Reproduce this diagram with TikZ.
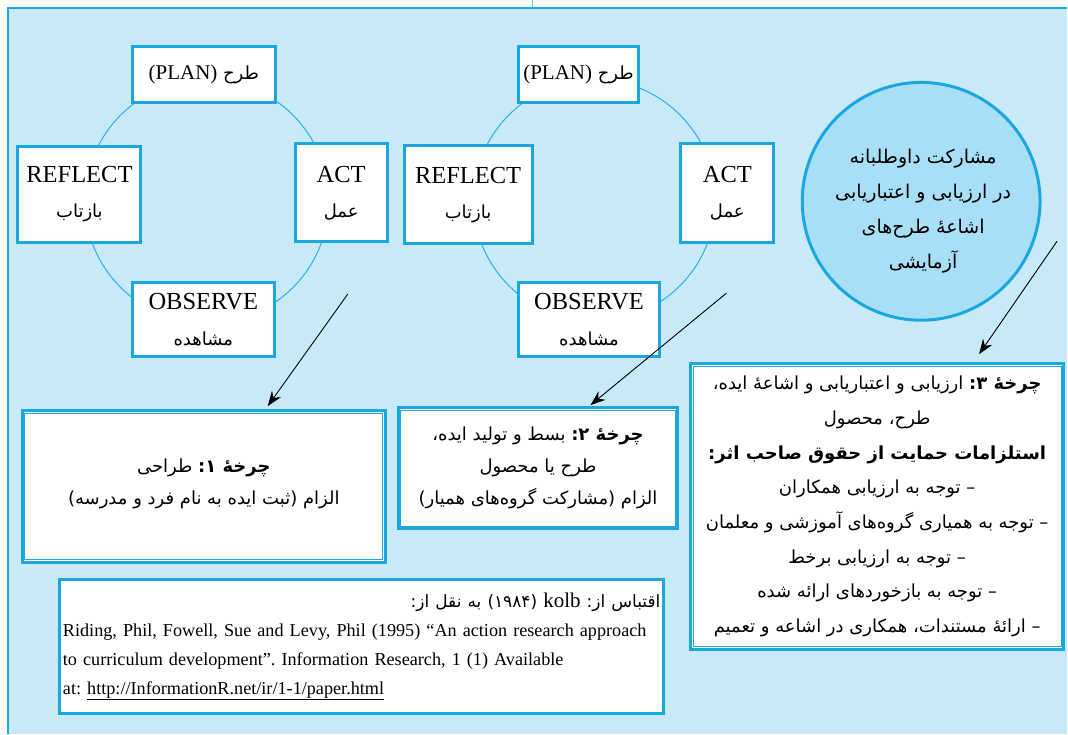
\documentclass[tikz,border=0pt]{standalone}
\usepackage{fontspec}
\setmainfont{Liberation Serif}
\newfontfamily\arabicfont[Script=Arabic]{DejaVu Sans}
\TeXXeTstate=1
\frenchspacing
\usetikzlibrary{arrows.meta}

\definecolor{panelblue}{HTML}{C7E9F8}
\definecolor{boxblue}{HTML}{1AA7E0}
\definecolor{ringblue}{HTML}{2BAEE4}
\definecolor{bubble}{HTML}{A9DEF7}

\newcommand{\fa}[2][18]{{\arabicfont\fontsize{#1}{34}\selectfont\beginR #2\endR}}
\newcommand{\lat}[2][21]{{\rmfamily\fontsize{#1}{34}\selectfont #2}}

\tikzset{
	stagebox/.style={draw=boxblue,line width=3pt,fill=white,align=center,inner sep=0pt,font=\fontsize{24.5}{37}\selectfont},
	cyclebox/.style={draw=boxblue,line width=3pt,fill=white,align=center,inner sep=0pt,font=\fontsize{18}{32}\selectfont},
	ring/.style={draw=ringblue,line width=1pt},
	pointer/.style={-{Stealth[length=15pt,width=11pt]},line width=0.9pt}
}

\begin{document}
\begin{tikzpicture}[x=1pt,y=-1pt]
		\fill[white] (0,0) rectangle (1068,734);
		\fill[panelblue] (8,8) rectangle (1068,734);
		\draw[boxblue,line width=2pt] (8,734) -- (8,8) -- (1068,8);
		\draw[ringblue!70,line width=1pt] (533,0) -- (533,7);
		
		\coordinate (hub1) at (207,201);
		\coordinate (hub2) at (595,200);
		\draw[ring] (hub1) circle[radius=122];
		\draw[ring] (hub2) circle[radius=121];
		
		\node[stagebox,minimum width=143,minimum height=56] (plan1) at (204,74.5) {\fa{طرح \lat{(PLAN)}}};
		\node[stagebox,minimum width=123,minimum height=96] (reflect1) at (79.5,194) {REFLECT\\[-2pt] \fa{بازتاب}};
		\node[stagebox,minimum width=92,minimum height=98] (act1) at (341.5,192.5) {ACT\\[-2pt] \fa{عمل}};
		\node[stagebox,minimum width=142,minimum height=74] (observe1) at (203.5,319.5) {OBSERVE\\ \fa{مشاهده}};
		
		\node[stagebox,minimum width=121,minimum height=56] (plan2) at (579,74.5) {\fa{طرح \lat{(PLAN)}}};
		\node[stagebox,minimum width=128,minimum height=98] (reflect2) at (468.5,194.5) {REFLECT\\[-2pt] \fa{بازتاب}};
		\node[stagebox,minimum width=93,minimum height=99] (act2) at (728,192.5) {ACT\\[-2pt] \fa{عمل}};
		\node[stagebox,minimum width=142,minimum height=74] (observe2) at (589.5,319.5) {OBSERVE\\ \fa{مشاهده}};
		
		\draw[boxblue,line width=3pt,fill=bubble] (922,201) circle[radius=119];
		\node[align=center,inner sep=0pt,font=\fontsize{19}{35}\selectfont] (volunteer) at (924,211)
			{\fa[19]{مشارکت داوطلبانه}\\ \fa[19]{در ارزیابی و اعتباریابی}\\ \fa[19]{اشاعه^^^^0654 طرح^^^^200cهای}\\ \fa[19]{آزمایشی}};
		
		\node[cyclebox,minimum width=363,minimum height=152] (cycle1) at (204,486.5)
			{\fa{\textbf{چرخه^^^^0654 ۱:} طراحی}\\ \fa{الزام (ثبت ایده به نام فرد و مدرسه)}\\[-22pt]};
		\node[cyclebox,minimum width=280,minimum height=121] (cycle2) at (538.5,468)
			{\fa{\textbf{چرخه^^^^0654 ۲:} بسط و تولید ایده،}\\ \fa{طرح یا محصول}\\ \fa{الزام (مشارکت گروه^^^^200cهای همیار)}};
		\node[cyclebox,minimum width=373,minimum height=286,font=\fontsize{18}{34.7}\selectfont] (cycle3) at (878,506.5)
			{\fa{\textbf{چرخه^^^^0654 ۳:} ارزیابی و اعتباریابی و اشاعه^^^^0654 ایده،}\\
			\fa{طرح، محصول}\\
			\fa{\textbf{استلزامات حمایت از حقوق صاحب اثر:}}\\
			\fa{– توجه به ارزیابی همکاران}\\
			\fa{– توجه به همیاری گروه^^^^200cهای آموزشی و معلمان}\\
			\fa{– توجه به ارزیابی برخط}\\
			\fa{– توجه به بازخوردهای ارائه شده}\\
			\fa{– ارائه^^^^0654 مستندات، همکاری در اشاعه و تعمیم}};
		\foreach \b in {cycle1,cycle2,cycle3}
			\draw[boxblue,line width=1pt] ([shift={(4,4)}]\b.north west) rectangle ([shift={(-4,-4)}]\b.south east);
		
		\node[draw=boxblue,line width=3pt,fill=white,align=left,inner xsep=3.5pt,inner ysep=0pt,text width=598pt,minimum height=134,font=\fontsize{18.2}{29}\selectfont] (source) at (362,646.5)
			{\hfill\fa[17]{اقتباس از: \lat[21]{kolb} (۱۹۸۴) به نقل از:}\\
			Riding, Phil, Fowell, Sue and Levy, Phil (1995) ``An action research approach\\
			to curriculum development''. Information Research, 1 (1) Available\\
			at: \underline{http://InformationR.net/ir/1-1/paper.html}};
		
		\coordinate (from1) at (348,294);
		\coordinate (from2) at (727,293);
		\coordinate (from3) at (1058,241);
		\coordinate (to1) at (268,406);
		\coordinate (to2) at (591,405);
		\coordinate (to3) at (980,354);
		\draw[pointer] (from1) -- (to1);
		\draw[pointer] (from2) -- (to2);
		\draw[pointer] (from3) -- (to3);
\end{tikzpicture}
\end{document}
